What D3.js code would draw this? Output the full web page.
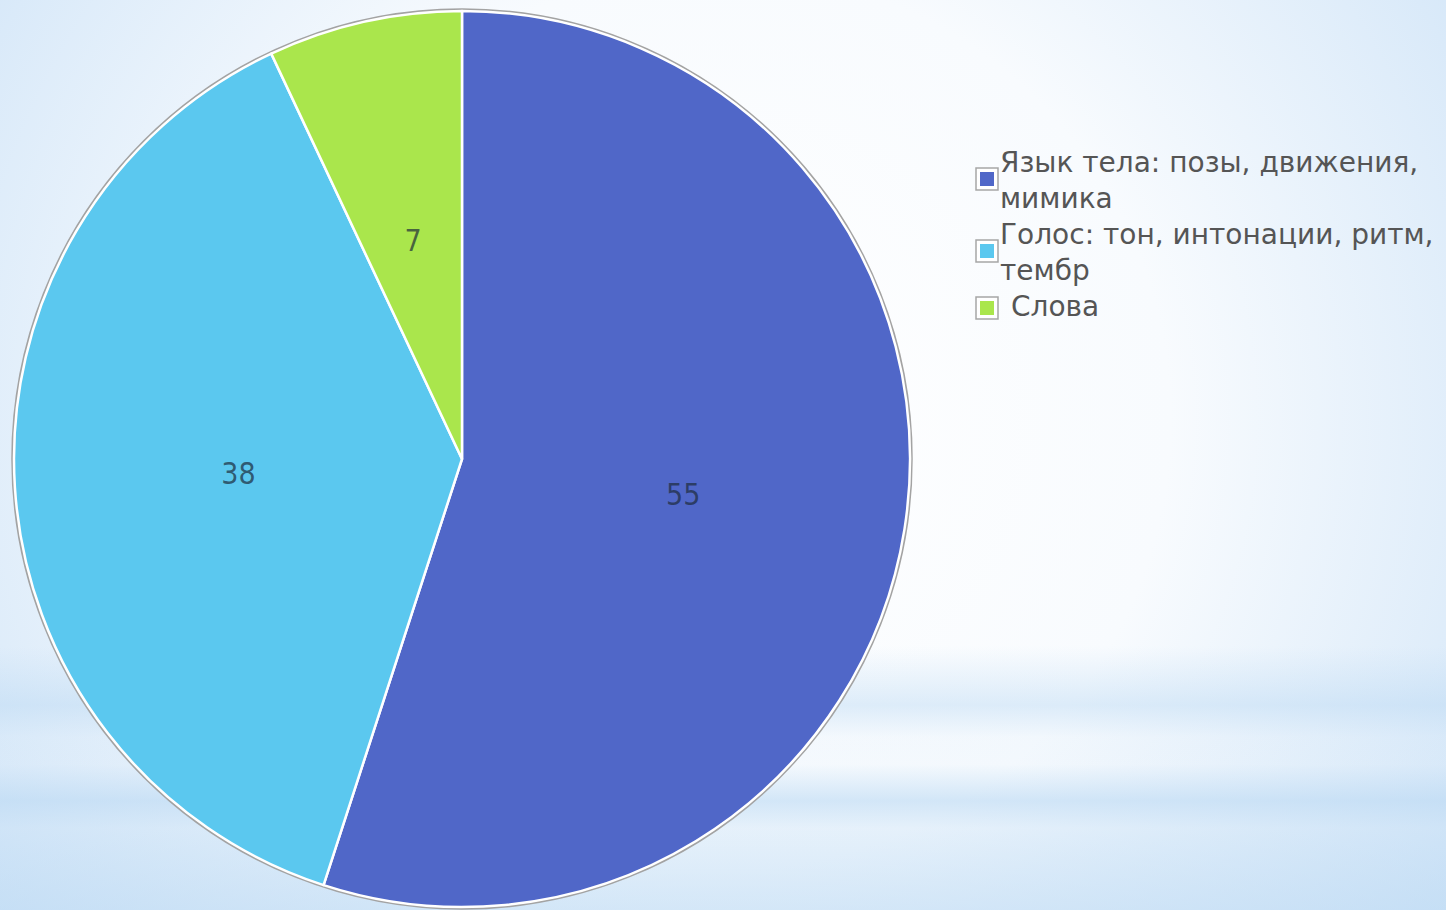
<!DOCTYPE html>
<html>
<head>
<meta charset="utf-8">
<script src="https://cdn.jsdelivr.net/npm/d3@7"></script>
<style>
  html, body { margin: 0; padding: 0; overflow: hidden; }
  svg { display: block; }
</style>
</head>
<body>
<svg id="chart" width="1446" height="910"></svg>
<script>
// data
const categories = [
  ['Язык тела: позы, движения,', 'мимика'],
  ['Голос: тон, интонации, ритм,', 'тембр'],
  ['Слова']
];
const values = [55, 38, 7];
const colors = ['#5067c8', '#5bc8ef', '#aae64c'];

const width = 1446, height = 910;
const cx = 462, cy = 459, radius = 448;

const svg = d3.select('#chart');
const defs = svg.append('defs');

// background: white glow in the middle, blue-ish edges and two soft bands near the bottom
const rg = defs.append('radialGradient')
  .attr('id', 'bg-glow')
  .attr('gradientUnits', 'userSpaceOnUse')
  .attr('cx', 720).attr('cy', 420).attr('r', 900)
  .attr('fx', 720).attr('fy', 420);
rg.append('stop').attr('offset', '0').attr('stop-color', '#ffffff');
rg.append('stop').attr('offset', '0.5').attr('stop-color', '#f8fbfe');
rg.append('stop').attr('offset', '1').attr('stop-color', '#d3e6f8');

const lg = defs.append('linearGradient')
  .attr('id', 'bg-bands')
  .attr('x1', 0).attr('y1', 0).attr('x2', 0).attr('y2', 1);
[
  [0, 0], [0.71, 0], [0.775, 0.45], [0.81, 0.1], [0.84, 0.08],
  [0.88, 0.6], [0.91, 0.3], [1, 0.55]
].forEach(([o, a]) => {
  lg.append('stop').attr('offset', o)
    .attr('stop-color', '#b9d8f3').attr('stop-opacity', a);
});

svg.append('rect').attr('width', width).attr('height', height).attr('fill', 'url(#bg-glow)');
svg.append('rect').attr('width', width).attr('height', height).attr('fill', 'url(#bg-bands)');

// pie
const pie = d3.pie().sort(null).value((d) => d);
const arc = d3.arc().innerRadius(0).outerRadius(radius);
const arcs = pie(values);

const g = svg.append('g').attr('transform', `translate(${cx},${cy})`);

g.append('circle')
  .attr('r', radius + 1.5)
  .attr('fill', 'none')
  .attr('stroke', '#a3a3a3')
  .attr('stroke-width', 2.5);

g.selectAll('path.slice')
  .data(arcs)
  .join('path')
  .attr('class', 'slice')
  .attr('d', arc)
  .attr('fill', (d, i) => colors[i])
  .attr('stroke', '#ffffff')
  .attr('stroke-width', 2.5)
  .attr('stroke-linejoin', 'round');

g.selectAll('text.value')
  .data(arcs)
  .join('text')
  .attr('class', 'value')
  .attr('transform', (d) => `translate(${arc.centroid(d)})`)
  .attr('text-anchor', 'middle')
  .attr('dy', '0.36em')
  .attr('font-family', 'DejaVu Sans Condensed, DejaVu Sans, sans-serif')
  .attr('font-size', 30)
  .attr('fill', '#1c2a3a')
  .attr('fill-opacity', 0.7)
  .text((d) => d.data);

// legend
const legendX = 1000;
const lineH = 36;
const legendTop = 172;
const fontSize = 28;

const legend = svg.append('g').attr('class', 'legend');
let line = 0;
categories.forEach((lines, i) => {
  const first = legendTop + line * lineH;
  const textG = legend.append('text')
    .attr('x', legendX)
    .attr('y', first)
    .attr('font-family', 'DejaVu Sans, Verdana, sans-serif')
    .attr('font-size', fontSize)
    .attr('fill', '#555555');
  lines.forEach((t, j) => {
    textG.append('tspan')
      .attr('x', lines.length === 1 ? legendX + 11 : legendX)
      .attr('dy', j === 0 ? 0 : lineH)
      .text(t);
  });
  // marker sits between the two lines, or beside a single line
  const my = lines.length > 1 ? first + 7 : first - 8;
  legend.append('rect')
    .attr('x', 976).attr('y', my - 11)
    .attr('width', 22).attr('height', 22)
    .attr('fill', '#ffffff')
    .attr('stroke', '#a6a6a6')
    .attr('stroke-width', 1.5);
  legend.append('rect')
    .attr('x', 980).attr('y', my - 7)
    .attr('width', 14).attr('height', 14)
    .attr('fill', colors[i]);
  line += lines.length;
});
</script>
</body>
</html>
